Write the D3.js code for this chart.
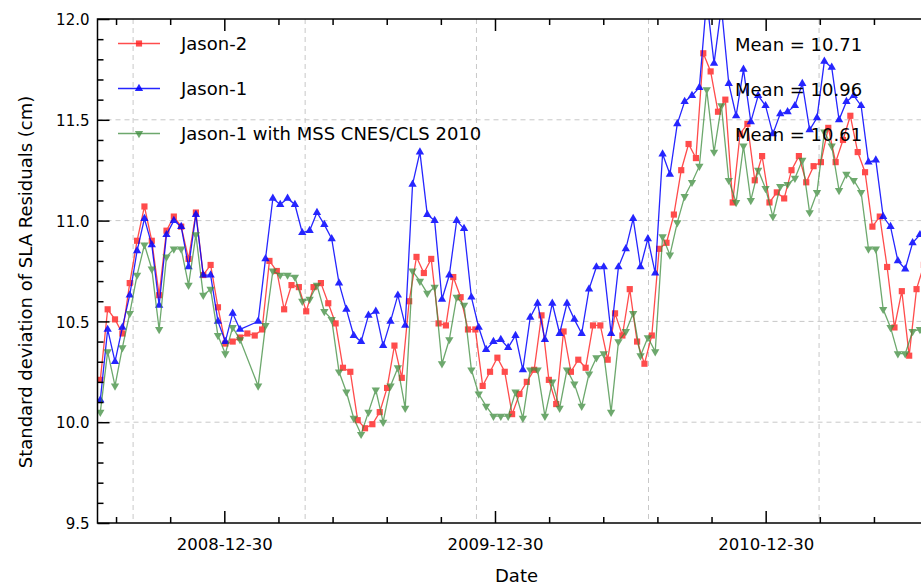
<!DOCTYPE html>
<html>
<head>
<meta charset="utf-8">
<script src="https://cdn.jsdelivr.net/npm/d3@7"></script>
<style>
	html, body { margin: 0; padding: 0; background: #fff; overflow: hidden; }
	svg { display: block; font-family: 'DejaVu Sans', sans-serif; }
	.grid line { stroke: #c8c8c8; stroke-width: 1; stroke-dasharray: 5,4; }
	.tick line { stroke: #000; stroke-width: 1.5; }
	.axis .domain { display: none; }
</style>
</head>
<body>
<svg id="chart"></svg>
<script>
// Jason-2 cycle numbers, one sample per cycle
const cycles = [
	  1,   2,   3,   4,   5,   6,   7,   8,   9,  10,
	 11,  12,  13,  14,  15,  16,  17,  18,  19,  20,
	 21,  22,  23,  24,  25,  26,  27,  28,  29,  30,
	 31,  32,  33,  34,  35,  36,  37,  38,  39,  40,
	 41,  42,  43,  44,  45,  46,  47,  48,  49,  50,
	 51,  52,  53,  54,  55,  56,  57,  58,  59,  60,
	 61,  62,  63,  64,  65,  66,  67,  68,  69,  70,
	 71,  72,  73,  74,  75,  76,  77,  78,  79,  80,
	 81,  82,  83,  84,  85,  86,  87,  88,  89,  90,
	 91,  92,  93,  94,  95,  96,  97,  98,  99, 100,
	101, 102, 103, 104, 105, 106, 107, 108, 109, 110,
	111, 112, 113
];

const jason2 = [
	10.21, 10.56, 10.51, 10.44, 10.69, 10.90, 11.07, 10.90, 10.63, 10.95,
	11.02, 10.97, 10.81, 11.04, 10.73, 10.78, 10.57, 10.39, 10.40, 10.42,
	10.44, 10.43, 10.46, 10.80, 10.75, 10.56, 10.68, 10.67, 10.55, 10.67,
	10.69, 10.59, 10.49, 10.27, 10.25, 10.01,  9.97,  9.99, 10.05, 10.17,
	10.38, 10.22, 10.60, 10.82, 10.74, 10.81, 10.49, 10.48, 10.72, 10.62,
	10.46, 10.46, 10.18, 10.25, 10.32, 10.25, 10.04, 10.14, 10.20, 10.26,
	10.53, 10.21, 10.09, 10.45, 10.25, 10.31, 10.27, 10.48, 10.48, 10.31,
	10.54, 10.43, 10.66, 10.40, 10.29, 10.43, 10.86, 10.89, 11.03, 11.25,
	11.38, 11.31, 11.83, 11.74, 11.54, 11.60, 11.09, 11.43, 11.48, 11.20,
	11.32, 11.09, 11.14, 11.11, 11.25, 11.32, 11.19, 11.27, 11.29, 11.46,
	11.29, 11.40, 11.52, 11.34, 11.24, 10.97, 11.02, 10.77, 10.47, 10.65,
	10.33, 10.66, 10.78
];

// null = no Jason-1 data (orbit change)
const jason1 = [
	10.11, 10.46, 10.30, 10.47, 10.63, 10.85, 11.01, 10.88, 10.58, 10.93,
	11.00, 10.97, 10.77, 11.03, 10.73, 10.73, 10.50, 10.40, 10.54, 10.46,
	 null, 10.50, 10.81, 11.11, 11.08, 11.11, 11.08, 10.94, 10.95, 11.04,
	10.98, 10.91, 10.69, 10.56, 10.43, 10.40, 10.53, 10.55, 10.38, 10.50,
	10.63, 10.48, 11.18, 11.34, 11.03, 11.00, 10.61, 10.73, 11.00, 10.96,
	10.62, 10.47, 10.36, 10.40, 10.41, 10.37, 10.43, 10.26, 10.52, 10.59,
	10.41, 10.59, 10.44, 10.59, 10.51, 10.44, 10.66, 10.77, 10.77, 10.44,
	10.77, 10.86, 11.01, 10.77, 10.91, 10.74, 11.33, 11.23, 11.48, 11.59,
	11.62, 11.66, 12.10, 11.78, 12.06, 11.68, 11.52, 11.75, 11.49, 11.62,
	11.57, 11.43, 11.53, 11.54, 11.57, 11.68, 11.45, 11.51, 11.79, 11.76,
	11.50, 11.59, 11.62, 11.57, 11.29, 11.30, 11.02, 10.97, 10.80, 10.76,
	10.89, 10.93,  null
];

const jason1Mss = [
	10.05, 10.35, 10.18, 10.37, 10.54, 10.73, 10.88, 10.76, 10.46, 10.82,
	10.86, 10.86, 10.68, 10.93, 10.63, 10.66, 10.43, 10.34, 10.47, 10.41,
	 null, 10.18, 10.48, 10.75, 10.73, 10.73, 10.72, 10.60, 10.61, 10.68,
	10.55, 10.51, 10.25, 10.15, 10.02,  9.94, 10.05, 10.16, 10.00, 10.18,
	10.27, 10.07, 10.75, 10.70, 10.64, 10.67, 10.29, 10.41, 10.62, 10.58,
	10.26, 10.14, 10.08, 10.03, 10.03, 10.03, 10.15, 10.02, 10.26, 10.26,
	10.03, 10.20, 10.07, 10.26, 10.19, 10.08, 10.24, 10.32, 10.34, 10.05,
	10.40, 10.45, 10.54, 10.33, 10.42, 10.35, 10.92, 10.83, 10.99, 11.12,
	11.19, 11.27, 11.65, 11.34, 11.57, 11.20, 11.09, 11.37, 11.10, 11.25,
	11.16, 11.02, 11.17, 11.18, 11.21, 11.30, 11.04, 11.14, 11.44, 11.37,
	11.15, 11.23, 11.20, 11.14, 10.86, 10.86, 10.56, 10.47, 10.34, 10.34,
	10.45, 10.46,  null
];

const seriesNames = ['Jason-2', 'Jason-1', 'Jason-1 with MSS CNES/CLS 2010'];
const meanLabels = ['Mean = 10.71', 'Mean = 10.96', 'Mean = 10.61'];
const yearTicks = ['2008-12-30', '2009-12-30', '2010-12-30'];
const gridDates = ['2008-08-29', '2009-04-18', '2009-12-05', '2010-07-25', '2011-03-12'];
const yTicks = [9.5, 10.0, 10.5, 11.0, 11.5, 12.0];
const yGrid = [10.0, 10.5, 11.0, 11.5];
const xDomain = ['2008-07-12', '2011-08-16'];
const yDomain = [9.5, 12.0];

// cycle -> time
const firstCycleDate = '2008-07-15T19:00';
const cycleDays = 9.9156;
const interleavedFrom = 22;   // Jason-1 on its new orbit from this Jason-2 cycle
const jason1LagDays = 4.6;

const parseDate = d3.utcParse('%Y-%m-%d');
const t0 = d3.utcParse('%Y-%m-%dT%H:%M')(firstCycleDate);
function cycleDate(c, lag) {
	return new Date(t0.getTime() + ((c - 1) * cycleDays + lag) * 864e5);
}

// dimensions (plot runs a little past the right edge of the picture)
const W = 921, H = 586;
const plot = {left: 97.5, top: 19, right: 935.5, bottom: 523};

const $svg = d3.select('#chart').attr('width', W).attr('height', H);

// scales
const scaleX = d3.scaleUtc()
	.domain(xDomain.map(parseDate))
	.range([plot.left, plot.right]);

const scaleY = d3.scaleLinear()
	.domain(yDomain)
	.range([plot.bottom, plot.top]);

// grid
const $grid = $svg.append('g').attr('class', 'grid');
$grid.selectAll('.gx')
	.data(gridDates.map(parseDate))
	.enter().append('line')
	.attr('x1', d => scaleX(d)).attr('x2', d => scaleX(d))
	.attr('y1', plot.top).attr('y2', plot.bottom);
$grid.selectAll('.gy')
	.data(yGrid)
	.enter().append('line')
	.attr('x1', plot.left).attr('x2', plot.right)
	.attr('y1', d => scaleY(d)).attr('y2', d => scaleY(d));

// series
const series = [
	{name: seriesNames[0], values: jason2, color: '#ff2020', opacity: 0.8, symbol: d3.symbolSquare, size: 38, flip: false, lag: c => 0},
	{name: seriesNames[1], values: jason1, color: '#0000ff', opacity: 0.85, symbol: d3.symbolTriangle, size: 30, flip: false, lag: c => c >= interleavedFrom ? jason1LagDays : 0},
	{name: seriesNames[2], values: jason1Mss, color: '#3d8c3d', opacity: 0.75, symbol: d3.symbolTriangle, size: 30, flip: true, lag: c => c >= interleavedFrom ? jason1LagDays : 0}
];

$svg.append('clipPath').attr('id', 'clip')
	.append('rect')
	.attr('x', plot.left).attr('y', plot.top)
	.attr('width', plot.right - plot.left).attr('height', plot.bottom - plot.top);

const $data = $svg.append('g').attr('clip-path', 'url(#clip)');

const line = d3.line()
	.x(d => scaleX(d.date))
	.y(d => scaleY(d.value));

series.forEach(function(s) {
	const pts = cycles
		.map((c, i) => ({date: cycleDate(c, s.lag(c)), value: s.values[i]}))
		.filter(d => d.value != null);   // matplotlib just joins across the gap

	const $g = $data.append('g').attr('opacity', s.opacity);
	$g.append('path')
		.datum(pts)
		.attr('fill', 'none')
		.attr('stroke', s.color)
		.attr('stroke-width', 1.3)
		.attr('d', line);

	$g.selectAll('path.mark')
		.data(pts)
		.enter().append('path')
		.attr('class', 'mark')
		.attr('d', d3.symbol().type(s.symbol).size(s.size))
		.attr('fill', s.color)
		.attr('transform', d => 'translate(' + scaleX(d.date) + ',' + scaleY(d.value) + ')' + (s.flip ? ' rotate(180)' : ''));
});

// axes: ticks point inward, mirrored on top
const majorX = yearTicks.map(parseDate);
const minorX = d3.range(-2, 14).filter(k => k % 5 !== 0).map(k => d3.utcDay.offset(majorX[0], 73 * k));
const minorY = d3.range(95, 121).map(d => d / 10).filter(d => yTicks.indexOf(d) < 0);

$svg.append('g')
	.attr('class', 'axis')
	.attr('transform', 'translate(0,' + plot.bottom + ')')
	.call(d3.axisBottom(scaleX).tickValues(majorX).tickSize(-12).tickPadding(15).tickFormat(d3.utcFormat('%Y-%m-%d')))
	.attr('font-family', 'DejaVu Sans, sans-serif')
	.attr('font-size', 16.5)
	.selectAll('text').attr('fill', '#000');

$svg.append('g')
	.attr('class', 'axis')
	.attr('transform', 'translate(0,' + plot.bottom + ')')
	.call(d3.axisBottom(scaleX).tickValues(minorX).tickSize(-6).tickFormat(''));

$svg.append('g')
	.attr('class', 'axis')
	.attr('transform', 'translate(0,' + plot.top + ')')
	.call(d3.axisTop(scaleX).tickValues(majorX).tickSize(-12).tickFormat(''));

$svg.append('g')
	.attr('class', 'axis')
	.attr('transform', 'translate(0,' + plot.top + ')')
	.call(d3.axisTop(scaleX).tickValues(minorX).tickSize(-6).tickFormat(''));

$svg.append('g')
	.attr('class', 'axis')
	.attr('transform', 'translate(' + plot.left + ',0)')
	.call(d3.axisLeft(scaleY).tickValues(yTicks).tickSize(-12).tickPadding(8).tickFormat(d3.format('.1f')))
	.attr('font-family', 'DejaVu Sans, sans-serif')
	.attr('font-size', 15)
	.selectAll('text').attr('fill', '#000').attr('dy', '0.38em');

$svg.append('g')
	.attr('class', 'axis')
	.attr('transform', 'translate(' + plot.left + ',0)')
	.call(d3.axisLeft(scaleY).tickValues(minorY).tickSize(-6).tickFormat(''));

// spines
$svg.append('rect')
	.attr('x', plot.left).attr('y', plot.top)
	.attr('width', plot.right - plot.left).attr('height', plot.bottom - plot.top)
	.attr('fill', 'none')
	.attr('stroke', '#000')
	.attr('stroke-width', 1.5);

// axis titles
$svg.append('text')
	.attr('x', (plot.left + plot.right) / 2)
	.attr('y', 582)
	.attr('text-anchor', 'middle')
	.attr('font-size', 18)
	.text('Date');

$svg.append('text')
	.attr('transform', 'translate(32,' + 282 + ') rotate(-90)')
	.attr('text-anchor', 'middle')
	.attr('font-size', 18)
	.text('Standard deviation of SLA Residuals (cm)');

// legend
const $legend = $svg.append('g').attr('transform', 'translate(118,43.5)');
const $rows = $legend.selectAll('.row')
	.data(series)
	.enter().append('g')
	.attr('transform', (d, i) => 'translate(0,' + (i * 45) + ')');

$rows.append('line')
	.attr('x1', 0).attr('x2', 42)
	.attr('stroke', d => d.color)
	.attr('stroke-width', 1.3)
	.attr('opacity', d => d.opacity);

$rows.append('path')
	.attr('d', d => d3.symbol().type(d.symbol).size(d.size)())
	.attr('fill', d => d.color)
	.attr('opacity', d => d.opacity)
	.attr('transform', d => 'translate(21,0)' + (d.flip ? ' rotate(180)' : ''));

$rows.append('text')
	.attr('x', 63)
	.attr('y', 6.5)
	.attr('font-size', 18)
	.text(d => d.name);

// means
$svg.selectAll('.mean')
	.data(meanLabels)
	.enter().append('text')
	.attr('class', 'mean')
	.attr('x', 735)
	.attr('y', (d, i) => 50.5 + i * 45)
	.attr('font-size', 18)
	.text(d => d);
</script>
</body>
</html>
